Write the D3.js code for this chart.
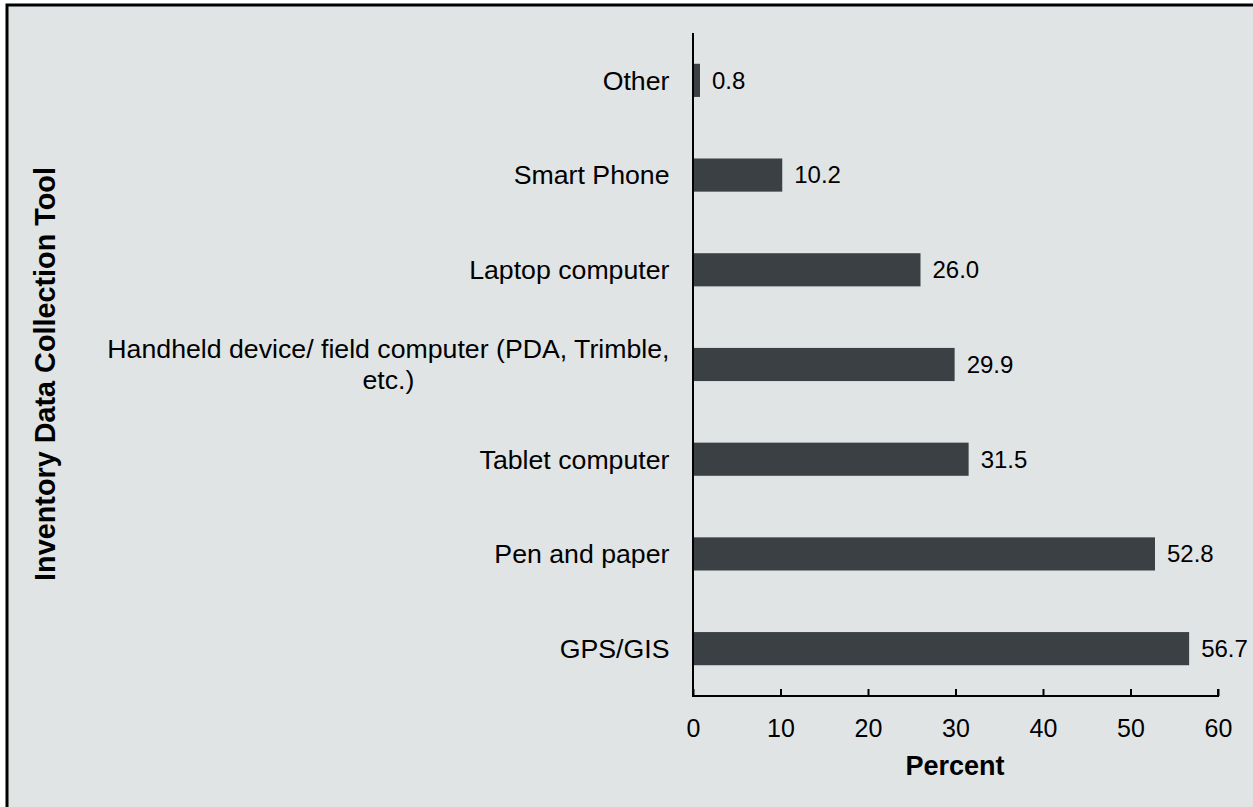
<!DOCTYPE html>
<html><head><meta charset="utf-8">
<script src="https://cdn.jsdelivr.net/npm/d3@7"></script>
<style>body{margin:0;background:#fff;}svg{display:block;}text{font-family:"Liberation Sans",Arial,sans-serif;fill:#000;}</style>
</head><body><svg id="c" width="1253" height="807"></svg>
<script>
const categories = ["Other","Smart Phone","Laptop computer","Handheld device/ field computer (PDA, Trimble,|etc.)","Tablet computer","Pen and paper","GPS/GIS"];
const values = [0.8,10.2,26.0,29.9,31.5,52.8,56.7];
const xTicks = [0,10,20,30,40,50,60];
const xTitle = "Percent";
const yTitle = "Inventory Data Collection Tool";

const svg = d3.select("#c");
svg.append("rect").attr("x",7).attr("y",5).attr("width",1260).attr("height",820)
  .attr("fill","#e1e4e5").attr("stroke","#000").attr("stroke-width",3);

const x = d3.scaleLinear().domain([0,60]).range([693,1218]);
const y = d3.scaleBand().domain(categories).range([33,696]).paddingInner(0.65).paddingOuter(0.325);

svg.selectAll("rect.bar").data(values).enter().append("rect").attr("class","bar")
  .attr("x",x(0)).attr("y",(d,i)=>y(categories[i]))
  .attr("width",d=>x(d)-x(0)).attr("height",y.bandwidth()).attr("fill","#3a4043");

svg.selectAll("text.val").data(values).enter().append("text").attr("class","val")
  .attr("x",d=>x(d)+12).attr("y",(d,i)=>y(categories[i])+y.bandwidth()/2)
  .attr("dy","0.35em").attr("font-size",24).text(d=>d.toFixed(1));

// category labels
categories.forEach((c,i)=>{
  const lines = c.split("|");
  const cy = y(c)+y.bandwidth()/2;
  const g = svg.append("g");
  const lh = 31;
  const t = g.append("text").attr("font-size",26.7).attr("text-anchor","middle");
  lines.forEach((l,j)=>{
    t.append("tspan").attr("x",0).attr("y",cy+(j-(lines.length-1)/2)*lh).attr("dy","0.35em").text(l);
  });
  const w = t.node().getBBox().width;
  g.attr("transform",`translate(${669.5-w/2},0)`);
});

// axes
const xa = svg.append("g").attr("transform","translate(0,696)")
  .call(d3.axisBottom(x).tickValues(xTicks).tickSize(-7).tickPadding(23).tickFormat(d3.format("d")));
xa.selectAll("text").attr("font-size",25).attr("font-family","Liberation Sans, Arial, sans-serif").attr("fill","#000");
xa.select(".domain").attr("stroke","#000").attr("stroke-width",2).attr("d","M693,-7V0H1218V-7");
xa.selectAll(".tick line").attr("stroke","#000").attr("stroke-width",2);

svg.append("line").attr("x1",693).attr("x2",693).attr("y1",33).attr("y2",696).attr("stroke","#000").attr("stroke-width",2);

svg.append("text").attr("x",955).attr("y",766).attr("dy","0.35em").attr("text-anchor","middle")
  .attr("font-size",27).attr("font-weight","bold").text(xTitle);
svg.append("text").attr("transform","translate(45,374) rotate(-90)").attr("dy","0.35em").attr("text-anchor","middle")
  .attr("font-size",28.8).attr("font-weight","bold").text(yTitle);
</script></body></html>
